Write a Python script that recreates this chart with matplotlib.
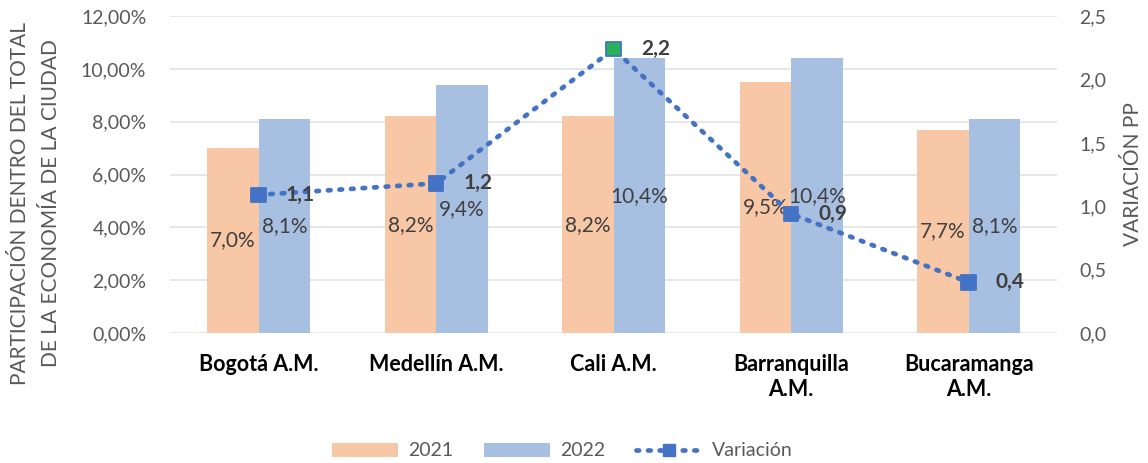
import matplotlib
matplotlib.use("Agg")
import matplotlib.pyplot as plt
from matplotlib.patches import Patch
from matplotlib.lines import Line2D
import numpy as np

categories = ["Bogotá A.M.", "Medellín A.M.", "Cali A.M.", "Barranquilla\nA.M.", "Bucaramanga\nA.M."]
v2021 = [7.0, 8.2, 8.2, 9.5, 7.7]
v2022 = [8.1, 9.4, 10.4, 10.4, 8.1]
variacion = [1.09, 1.18, 2.24, 0.94, 0.40]

c21 = "#F8C8A6"
c22 = "#A7BFE1"
cline = "#4472C4"
tcol = "#595959"

plt.rcParams['font.family'] = ['Lato', 'DejaVu Sans']

fig = plt.figure(figsize=(11.48, 4.63), dpi=100)
ax = fig.add_axes([0.148, 0.281, 0.773, 0.684])
x = np.arange(len(categories))
w = 0.29
b1 = ax.bar(x - w/2, v2021, w, color=c21, zorder=2)
b2 = ax.bar(x + w/2, v2022, w, color=c22, zorder=2)
ax.set_xlim(-0.5, len(categories) - 0.5)
ax.set_ylim(0, 12)
ax.set_yticks(np.arange(0, 12.01, 2))
ax.set_yticklabels([f"{t:.2f}%".replace('.', ',') for t in np.arange(0, 12.01, 2)], fontsize=14, color=tcol)
ax.set_xticks(x)
ax.set_xticklabels(categories, fontsize=15.5, fontweight='bold', color='black', linespacing=1.25)
ax.tick_params(axis='both', length=0)
ax.tick_params(axis='x', pad=15)
ax.tick_params(axis='y', pad=17)
ax.grid(axis='y', color='#E3E3E3', linewidth=1.2, zorder=0)
for s in ax.spines.values():
    s.set_visible(False)
ax.set_ylabel("PARTICIPACIÓN DENTRO DEL TOTAL\nDE LA ECONOMÍA DE LA CIUDAD", fontsize=15, color=tcol, linespacing=1.7)
ax.yaxis.set_label_coords(-0.123, 0.41)

for bars, vals in ((b1, v2021), (b2, v2022)):
    for r, v in zip(bars, vals):
        ax.text(r.get_x() + r.get_width()/2, v/2, f"{v:.1f}%".replace('.', ','),
                ha='center', va='center', fontsize=15, color='#404040', zorder=5)

ax2 = ax.twinx()
ax2.set_ylim(0, 2.5)
ax2.set_yticks(np.arange(0, 2.51, 0.5))
ax2.set_yticklabels([f"{t:.1f}".replace('.', ',') for t in np.arange(0, 2.51, 0.5)], fontsize=14, color=tcol)
ax2.tick_params(axis='y', length=0, pad=16)
for s in ax2.spines.values():
    s.set_visible(False)
ax2.set_ylabel("VARIACIÓN PP", fontsize=15, color=tcol, labelpad=10)
ax2.yaxis.set_label_coords(1.074, 0.5)
ax2.plot(x, variacion, linestyle=(0, (0.55, 1.9)), color=cline, linewidth=3.4,
         dash_capstyle='round', zorder=3)
fcs = [cline] * len(x)
imax = int(np.argmax(variacion))
fcs[imax] = "#2BB15A"
ax2.scatter(x, variacion, marker='s', s=110, facecolors=fcs, edgecolors=cline, linewidths=1.3, zorder=4)
for xi, v in zip(x, variacion):
    ax2.text(xi + 0.235, v, f"{v:.1f}".replace('.', ','), ha='center', va='center',
             fontsize=15, fontweight='bold', color='#404040', zorder=6)

handles = [Patch(facecolor=c21, edgecolor='none'), Patch(facecolor=c22, edgecolor='none'),
           Line2D([0], [0], color=cline, linestyle=(0, (0.55, 1.9)), linewidth=3.4,
                  dash_capstyle='round', marker='s', markersize=9,
                  markerfacecolor=cline, markeredgecolor=cline)]
fig.legend(handles, ["2021", "2022", "Variación"], loc='center', bbox_to_anchor=(0.49, 0.026),
           ncol=3, frameon=False, fontsize=14, handlelength=3.4, handleheight=0.75,
           columnspacing=1.6, handletextpad=0.5, labelcolor=tcol)

fig.savefig("out.png", dpi=100)
